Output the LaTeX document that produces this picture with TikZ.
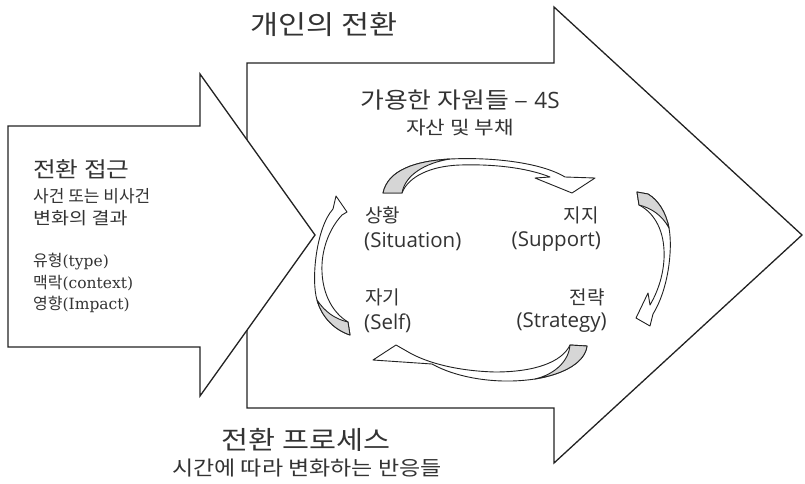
\documentclass[tikz,border=0pt]{standalone}
\usepackage{fontspec}
\setmainfont{Noto Sans CJK KR}
\newfontfamily\krw{Noto Sans CJK KR}[FakeStretch=1.15]
\newfontfamily\latsans{Open Sans}
\newfontfamily\latserif{DejaVu Serif}
\definecolor{ink}{HTML}{333333}
\definecolor{line}{HTML}{222222}
\definecolor{backgray}{HTML}{D6D6D6}
\newcommand{\fsz}[1]{\fontsize{#1}{#1}\selectfont}

\begin{document}
\begin{tikzpicture}[x=1pt,y=-1pt,
  bigarrow/.style={draw=line, line width=1.3pt, fill=white, line join=miter},
  bandarrow/.style={draw=line, line width=0.9pt, fill=white, line join=round},
  bandback/.style={draw=line, line width=0.9pt, fill=backgray, line join=round},
  lbl/.style={inner sep=0pt, text=ink}]
\useasboundingbox (0,0) rectangle (805,483);

% large arrow: the person's transition
\draw[bigarrow] (247,63) -- (554,63) -- (554,7) -- (802,235) -- (554,463)
  -- (554,408) -- (247,408) -- cycle;
% small arrow: approaching the transition
\draw[bigarrow] (8,126) -- (200,126) -- (200,74) -- (315,235) -- (200,396)
  -- (200,347) -- (8,347) -- cycle;

% cycle of the 4S: top band
\draw[bandarrow] (383,193) .. controls (388,170) and (415,161) .. (450,159)
  .. controls (490,157) and (540,162) .. (565,177) -- (595,178) -- (572,193)
  -- (535,178) -- (550,177) .. controls (525,167) and (490,164) .. (460,165)
  .. controls (430,166) and (408,177) .. (402,193) -- cycle;
\draw[bandback] (383,193) .. controls (388,170) and (415,161) .. (450,159)
  .. controls (425,163) and (405,175) .. (402,193) -- cycle;
% right band
\draw[bandarrow] (648,194) .. controls (658,200) and (666,212) .. (669,228)
  .. controls (673,250) and (668,290) .. (653,314) -- (650,326) -- (636,318)
  -- (648,293) -- (650,305) .. controls (660,288) and (665,268) .. (664,250)
  .. controls (663,228) and (653,212) .. (639,205) -- (637,192) -- cycle;
\draw[bandback] (637,192) -- (648,194) .. controls (658,200) and (666,212) .. (669,228)
  .. controls (662,215) and (651,208) .. (639,205) -- cycle;
% bottom band
\draw[bandarrow] (587,346) .. controls (585,362) and (565,374) .. (535,379)
  .. controls (495,385) and (455,377) .. (432,364) -- (373,360) -- (396,345)
  -- (410,353) .. controls (430,364) and (460,371) .. (495,372)
  .. controls (535,372) and (562,362) .. (570,345) -- cycle;
\draw[bandback] (570,345) -- (587,346) .. controls (585,362) and (565,374) .. (535,379)
  .. controls (556,374) and (569,360) .. (570,345) -- cycle;
% left band
\draw[bandarrow] (350,335) .. controls (335,330) and (322,318) .. (317,300)
  .. controls (311,280) and (316,228) .. (333,209) -- (336,196) -- (347,212)
  -- (342,215) .. controls (328,230) and (321,252) .. (322,272)
  .. controls (323,295) and (333,313) .. (348,322) -- cycle;
\draw[bandback] (348,322) -- (350,335) .. controls (335,330) and (322,318) .. (317,300)
  .. controls (325,312) and (335,319) .. (348,322) -- cycle;

% headings
\node[lbl, anchor=west, font=\fsz{26.5}\krw] (title) at (250,25) {개인의 전환};
\node[lbl, font=\fsz{22.5}\krw] (res) at (460,100) {가용한 자원들 – {\latsans 4S}};
\node[lbl, font=\fsz{18.5}\krw] (ressub) at (460,128) {자산 및 부채};

% approach text
\node[lbl, anchor=west, font=\fsz{21.5}\krw] (appr) at (33,169) {전환 접근};
\node[lbl, anchor=west, font=\fsz{17}] (ev1) at (33,196) {사건 또는 비사건};
\node[lbl, anchor=west, font=\fsz{17}\krw] (ev2) at (33,218) {변화의 결과};
\node[lbl, anchor=west, font=\fsz{16}] (f1) at (33,262) {유형{\latserif\fsz{15.5}(type)}};
\node[lbl, anchor=west, font=\fsz{16}] (f2) at (33,283) {맥락{\latserif\fsz{15.5}(context)}};
\node[lbl, anchor=west, font=\fsz{16}] (f3) at (33,304) {영향{\latserif\fsz{15.5}(Impact)}};

% the four S
\node[lbl, anchor=west, font=\fsz{19}] (sit) at (365,215) {상황};
\node[lbl, anchor=west, font=\fsz{20.5}\latsans] (siten) at (364,242) {(Situation)};
\node[lbl, anchor=east, font=\fsz{19}] (sup) at (599,215) {지지};
\node[lbl, anchor=east, font=\fsz{20.5}\latsans] (supen) at (601,242) {(Support)};
\node[lbl, anchor=west, font=\fsz{19}] (self) at (365,297) {자기};
\node[lbl, anchor=west, font=\fsz{20.5}\latsans] (selfen) at (364,323) {(Self)};
\node[lbl, anchor=east, font=\fsz{19}] (strat) at (605,297) {전략};
\node[lbl, anchor=east, font=\fsz{20.5}\latsans] (straten) at (607,323) {(Strategy)};

% process text
\node[lbl, font=\fsz{25.5}\krw] (proc) at (306,440) {전환 프로세스};
\node[lbl, font=\fsz{20}\krw] (procsub) at (307,468) {시간에 따라 변화하는 반응들};
\end{tikzpicture}
\end{document}
